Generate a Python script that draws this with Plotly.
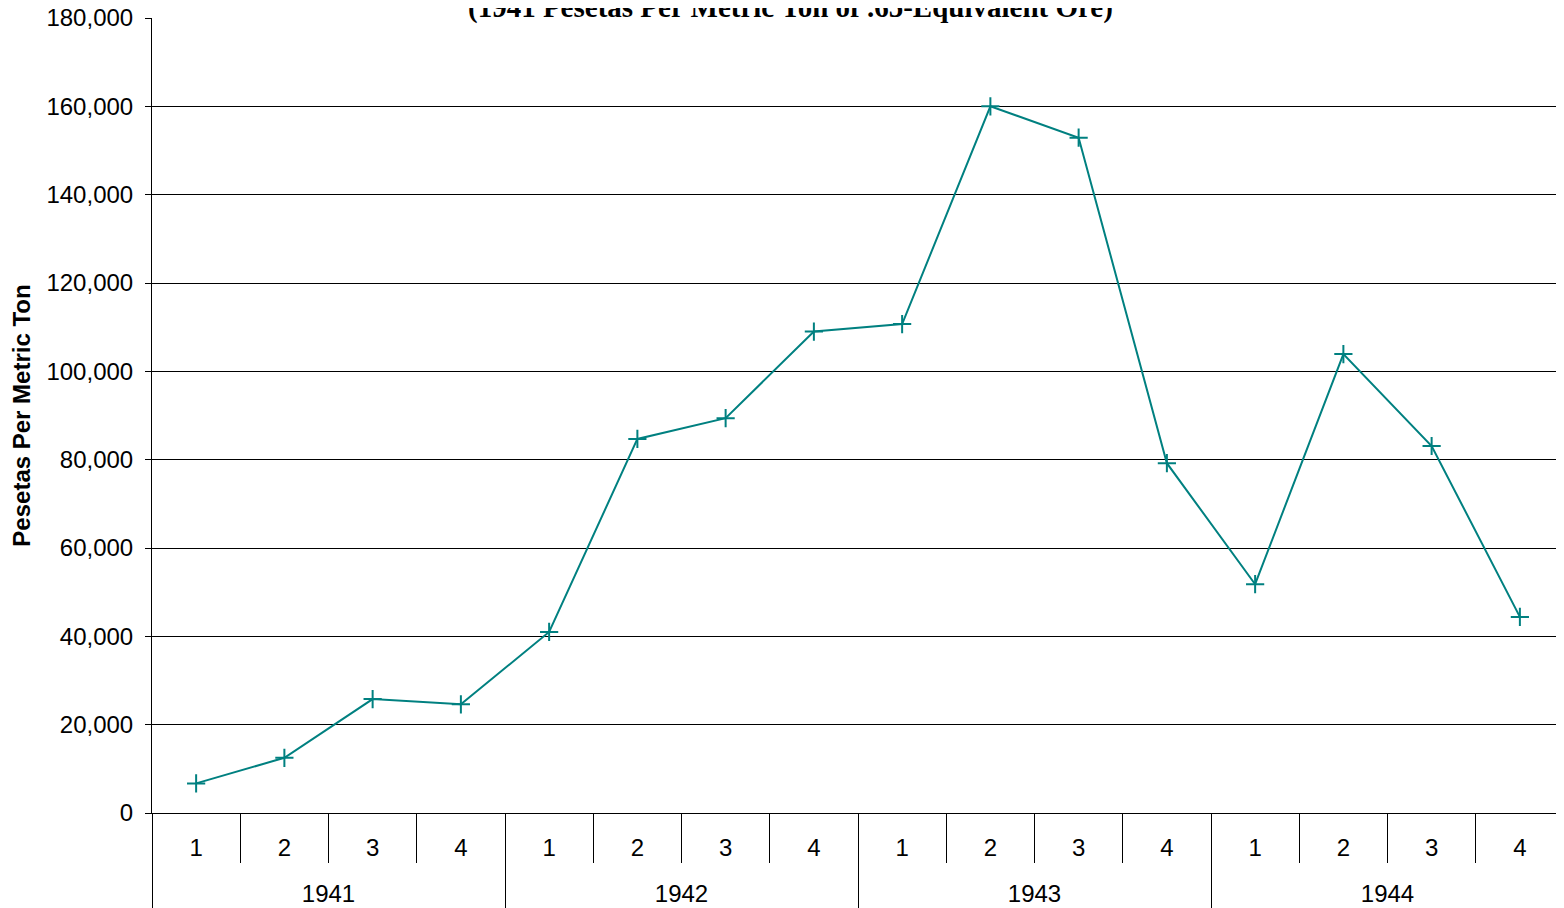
import plotly.graph_objects as go

# ---- data ----
years = ["1941", "1942", "1943", "1944"]
quarters = ["1", "2", "3", "4"]
prices = [6700, 12500, 25800, 24600,
          41000, 84700, 89400, 109000,
          110700, 160000, 152900, 79200,
          51800, 103900, 83100, 44400]
y_tickvals = [0, 20000, 40000, 60000, 80000, 100000, 120000, 140000, 160000, 180000]
title_text = "(1941 Pesetas Per Metric Ton of .65-Equivalent Ore)"
y_title = "Pesetas Per Metric Ton"

n = len(prices)
pos = list(range(n))
q_labels = [q for _ in years for q in quarters]
nq = len(quarters)
year_centers = [i * nq + (nq - 1) / 2 for i in range(len(years))]
q_bounds = [i + 0.5 for i in range(n - 1)]
year_bounds = [i * nq - 0.5 for i in range(len(years) + 1)]

TEAL = "#008080"
FONT = "Arial, Liberation Sans, sans-serif"
rng = [-0.5, n - 0.5]

fig = go.Figure()
fig.add_trace(go.Scatter(
    x=pos, y=prices, mode="lines+markers",
    line=dict(color=TEAL, width=2),
    marker=dict(symbol="cross-thin", size=13, line=dict(color=TEAL, width=2)),
    showlegend=False, hoverinfo="skip",
))
# empty helper trace so the year axis gets drawn
fig.add_trace(go.Scatter(
    x=year_centers, y=[None] * len(year_centers), xaxis="x2", yaxis="y",
    mode="markers", showlegend=False, hoverinfo="skip",
))

# page body has an 8px default margin, so the figure is offset by 8px
fig.update_layout(
    width=1556, height=900,
    margin=dict(l=144, r=0, t=10, b=95, autoexpand=False),
    paper_bgcolor="white", plot_bgcolor="white",
    font=dict(family=FONT, size=24, color="black"),
    xaxis=dict(
        range=rng, tickmode="array", tickvals=pos, ticktext=q_labels,
        ticks="", showgrid=False, zeroline=False, automargin=False,
        showline=True, linecolor="black", linewidth=1,
        ticklabelstandoff=13,
        minor=dict(tickmode="array", tickvals=q_bounds, ticks="outside",
                   ticklen=49, tickcolor="black", tickwidth=1, showgrid=False),
    ),
    xaxis2=dict(
        overlaying="x", anchor="y", side="bottom", range=rng,
        tickmode="array", tickvals=year_centers, ticktext=years,
        ticks="", showgrid=False, zeroline=False, showline=False,
        automargin=False, ticklabelstandoff=64,
        minor=dict(tickmode="array", tickvals=year_bounds, ticks="outside",
                   ticklen=100, tickcolor="black", tickwidth=1, showgrid=False),
    ),
    yaxis=dict(
        range=[0, 180000], tickmode="array", tickvals=y_tickvals,
        tickformat=",", ticks="outside", ticklen=6, tickcolor="black",
        showgrid=True, gridcolor="black", gridwidth=1, zeroline=False,
        showline=True, linecolor="black", linewidth=1, automargin=False,
        ticklabelstandoff=7, ticklabeloverflow="allow",
        title=dict(text="<b>" + y_title + "</b>", font=dict(size=24, family=FONT)),
    ),
)

fig.add_annotation(
    text="<b>" + title_text + "</b>", xref="paper", yref="paper",
    x=0.452, y=0.990, xanchor="center", yanchor="bottom", showarrow=False,
    font=dict(family="Times New Roman, Liberation Serif, serif", size=29, color="black"),
)

fig.write_html("out.html")
